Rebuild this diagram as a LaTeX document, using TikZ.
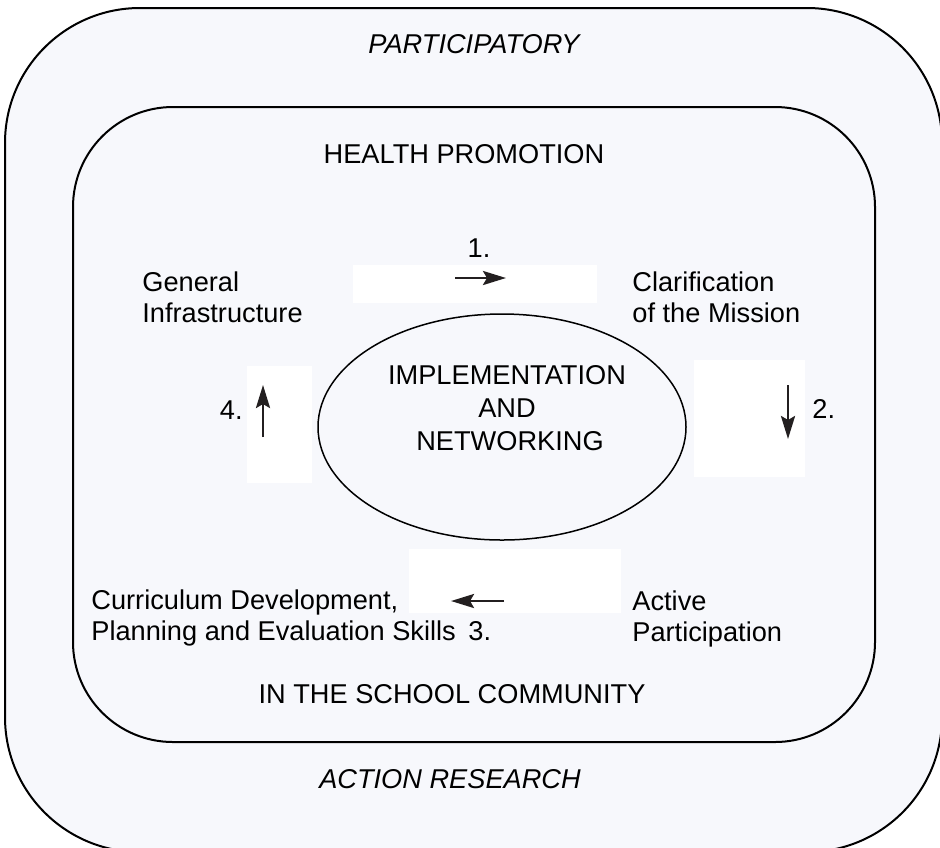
\documentclass[tikz,border=0pt]{standalone}
\usepackage{fontspec}
\setmainfont{Liberation Sans}
\usetikzlibrary{arrows.meta,shapes.geometric}
\definecolor{paper}{HTML}{F7F8FC}
\definecolor{ink}{HTML}{231F20}
\begin{document}
\begin{tikzpicture}[x=0.5pt,y=-0.5pt,
  frame/.style={draw=black,line width=1pt,fill=paper},
  blank/.style={fill=white,draw=none,inner sep=0pt},
  words/.style={inner sep=0pt,font=\fontsize{13.6}{15.5}\selectfont},
  stage/.style={words,align=left,anchor=base west},
  flow/.style={draw=ink,line width=1.4pt,-{Stealth[length=11.5pt,width=7pt,inset=2pt]}}]
\useasboundingbox (0,0) rectangle (940,847);
% two frames
\draw[frame,rounded corners=67.5pt] (5,8) rectangle (942,852);
\draw[frame,rounded corners=50pt] (73,107) rectangle (875,742);

\node[words,anchor=base,font=\fontsize{13.6}{15.5}\itshape] (top) at (474,53) {PARTICIPATORY};
\node[words,anchor=base] (health) at (464,163) {HEALTH PROMOTION};
\node[words,anchor=base] (school) at (452,703) {IN THE SCHOOL COMMUNITY};
\node[words,anchor=base,font=\fontsize{13.6}{15.5}\itshape] (bottom) at (450,788) {ACTION RESEARCH};

% white boxes behind the arrows
\node[blank,minimum width=122pt,minimum height=19pt] (box1) at (475,284) {};
\node[blank,minimum width=55.5pt,minimum height=58.5pt] (box2) at (749.5,418.5) {};
\node[blank,minimum width=106pt,minimum height=32pt] (box3) at (515,581) {};
\node[blank,minimum width=32.5pt,minimum height=58.5pt] (box4) at (279.5,424.5) {};

% centre
\node[ellipse,draw=black,line width=0.75pt,minimum width=184pt,minimum height=113pt] (hub) at (502,427) {};
\node[words,font=\fontsize{13.6}{16.3}\selectfont,align=center,anchor=base] (hubtext) at (507,450) {IMPLEMENTATION\\AND\hspace*{12pt}\\\hspace*{3pt}NETWORKING};

% stages
\node[stage] (infra) at (142,322) {General\\Infrastructure};
\node[stage] (mission) at (632,322) {Clarification\\of the Mission};
\node[stage] (active) at (632,641) {Active\\Participation};
\node[stage] (curric) at (91,640) {Curriculum Development,\\Planning and Evaluation Skills};

\node[words,anchor=base] (n1) at (479,257) {1.};
\node[words,anchor=base west] (n2) at (812,418) {2.};
\node[words,anchor=base west] (n3) at (468,640) {3.};
\node[words,anchor=base east] (n4) at (243,419) {4.};

% arrows
\coordinate (a1s) at (455,278); \coordinate (a1e) at (506,278);
\coordinate (a2s) at (788,385); \coordinate (a2e) at (788,439);
\coordinate (a3s) at (504,601); \coordinate (a3e) at (451,601);
\coordinate (a4s) at (263,437); \coordinate (a4e) at (263,385);
\draw[flow] (a1s) -- (a1e);
\draw[flow] (a2s) -- (a2e);
\draw[flow] (a3s) -- (a3e);
\draw[flow] (a4s) -- (a4e);
\end{tikzpicture}
\end{document}
